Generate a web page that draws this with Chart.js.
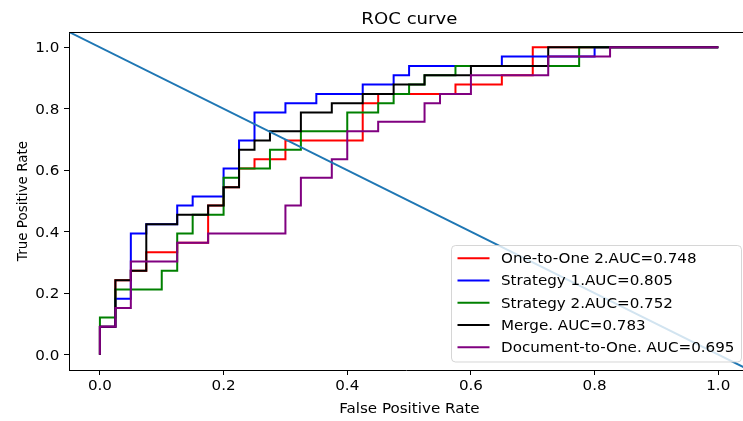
<!DOCTYPE html>
<html><head><meta charset="utf-8">
<script src="https://cdn.jsdelivr.net/npm/chart.js@4.4.0/dist/chart.umd.min.js"></script>
<style>html,body{margin:0;padding:0;background:#fff}canvas{display:block}</style>
</head><body>
<canvas id="c" width="743" height="421"></canvas>
<script>
// ---- data ----
const seriesLabels = ["One-to-One 2.AUC=0.748", "Strategy 1.AUC=0.805", "Strategy 2.AUC=0.752", "Merge. AUC=0.783", "Document-to-One. AUC=0.695"];
const seriesColors = ["#ff0000", "#0000ff", "#008000", "#000000", "#800080"];

const redFpr = [0, 0, 0.025, 0.05, 0.075, 0.125, 0.175, 0.2, 0.225, 0.25, 0.3, 0.425, 0.45, 0.575, 0.65, 0.7, 1.0];
const redTpr = [0, 0.091, 0.242, 0.273, 0.333, 0.364, 0.485, 0.545, 0.606, 0.636, 0.697, 0.818, 0.848, 0.879, 0.909, 1.0, 1.0];

const blueFpr = [0, 0, 0.025, 0.05, 0.075, 0.125, 0.15, 0.2, 0.225, 0.25, 0.3, 0.35, 0.425, 0.475, 0.5, 0.65, 0.8, 1.0];
const blueTpr = [0, 0.091, 0.182, 0.394, 0.424, 0.485, 0.515, 0.606, 0.697, 0.788, 0.818, 0.848, 0.879, 0.909, 0.939, 0.970, 1.0, 1.0];

const greenFpr = [0, 0, 0.025, 0.1, 0.125, 0.15, 0.2, 0.225, 0.275, 0.325, 0.4, 0.45, 0.475, 0.5, 0.525, 0.575, 0.775, 1.0];
const greenTpr = [0, 0.121, 0.212, 0.273, 0.394, 0.455, 0.576, 0.606, 0.667, 0.727, 0.788, 0.818, 0.848, 0.879, 0.909, 0.939, 1.0, 1.0];

const blackFpr = [0, 0, 0.025, 0.05, 0.075, 0.125, 0.175, 0.2, 0.225, 0.25, 0.275, 0.325, 0.375, 0.425, 0.475, 0.525, 0.6, 0.725, 1.0];
const blackTpr = [0, 0.091, 0.242, 0.273, 0.424, 0.455, 0.485, 0.545, 0.667, 0.697, 0.727, 0.788, 0.818, 0.848, 0.879, 0.909, 0.939, 1.0, 1.0];

const purpleFpr = [0, 0, 0.025, 0.05, 0.125, 0.175, 0.3, 0.325, 0.375, 0.4, 0.45, 0.525, 0.55, 0.6, 0.725, 0.825, 1.0];
const purpleTpr = [0, 0.091, 0.152, 0.303, 0.364, 0.394, 0.485, 0.576, 0.636, 0.727, 0.758, 0.818, 0.848, 0.909, 0.970, 1.0, 1.0];

const diagX = [-0.05, 1.05];
const diagY = [1.05, -0.05];

const xTicks = [0, 0.2, 0.4, 0.6, 0.8, 1.0];
const yTicks = [0, 0.2, 0.4, 0.6, 0.8, 1.0];
const xTickLabels = ["0.0", "0.2", "0.4", "0.6", "0.8", "1.0"];
const yTickLabels = ["0.0", "0.2", "0.4", "0.6", "0.8", "1.0"];

const titleText = "ROC curve";
const xLabel = "False Positive Rate";
const yLabel = "True Positive Rate";

// ---- build ----
const FONT = '"DejaVu Sans", "Liberation Sans", sans-serif';
const SX = 1.12; // horizontal stretch of the reference's text
const pts = (xs, ys) => xs.map((x, i) => ({x: x, y: ys[i]}));
const curves = [[redFpr, redTpr], [blueFpr, blueTpr], [greenFpr, greenTpr], [blackFpr, blackTpr], [purpleFpr, purpleTpr]];

const datasets = curves.map((c, i) => ({
  label: seriesLabels[i],
  data: pts(c[0], c[1]),
  borderColor: seriesColors[i],
  backgroundColor: seriesColors[i],
  borderWidth: 2,
  pointRadius: 0,
  stepped: 'before',
  fill: false,
  clip: 0,
  order: 5 - i
}));
datasets.push({
  label: 'diag',
  data: pts(diagX, diagY),
  borderColor: '#1f77b4',
  borderWidth: 2,
  pointRadius: 0,
  fill: false,
  clip: 0,
  order: 0
});

function stretchedText(ctx, text, x, y, align, sx) {
  ctx.save();
  ctx.translate(x, y);
  ctx.scale(sx, 1);
  ctx.textAlign = align;
  ctx.fillText(text, 0, 0);
  ctx.restore();
}

const decor = {
  id: 'decor',
  beforeDraw(chart) {
    const ctx = chart.ctx;
    ctx.save();
    ctx.fillStyle = '#fff';
    ctx.fillRect(0, 0, chart.width, chart.height);
    ctx.restore();
  },
  afterDraw(chart) {
    const ctx = chart.ctx;
    const a = chart.chartArea;
    const xs = chart.scales.x, ys = chart.scales.y;
    ctx.save();
    // top spine
    ctx.strokeStyle = '#000';
    ctx.lineWidth = 1;
    ctx.beginPath();
    ctx.moveTo(a.left, a.top + 0.5);
    ctx.lineTo(a.right, a.top + 0.5);
    ctx.stroke();
    ctx.fillStyle = '#000';
    ctx.textBaseline = 'alphabetic';
    // tick labels
    ctx.font = '13.5px ' + FONT;
    xTicks.forEach((v, i) => stretchedText(ctx, xTickLabels[i], xs.getPixelForValue(v), 389.5, 'center', SX));
    yTicks.forEach((v, i) => stretchedText(ctx, yTickLabels[i], 59.3, ys.getPixelForValue(v) + 4.9, 'right', SX));
    // title
    ctx.font = '16.2px ' + FONT;
    stretchedText(ctx, titleText, 409.4, 23.7, 'center', SX);
    // x label
    ctx.font = '13.5px ' + FONT;
    stretchedText(ctx, xLabel, 409.4, 412.5, 'center', SX);
    // y label
    ctx.save();
    ctx.translate(26.5, (a.top + a.bottom) / 2);
    ctx.rotate(-Math.PI / 2);
    ctx.textAlign = 'center';
    ctx.fillText(yLabel, 0, 0);
    ctx.restore();
    // legend
    const lx = 451.5, ly = 245.5, lw = 290, lh = 116.5, r = 4;
    ctx.beginPath();
    ctx.moveTo(lx + r, ly);
    ctx.lineTo(lx + lw - r, ly);
    ctx.quadraticCurveTo(lx + lw, ly, lx + lw, ly + r);
    ctx.lineTo(lx + lw, ly + lh - r);
    ctx.quadraticCurveTo(lx + lw, ly + lh, lx + lw - r, ly + lh);
    ctx.lineTo(lx + r, ly + lh);
    ctx.quadraticCurveTo(lx, ly + lh, lx, ly + lh - r);
    ctx.lineTo(lx, ly + r);
    ctx.quadraticCurveTo(lx, ly, lx + r, ly);
    ctx.closePath();
    ctx.fillStyle = 'rgba(255,255,255,0.8)';
    ctx.fill();
    ctx.strokeStyle = 'rgba(204,204,204,0.8)';
    ctx.lineWidth = 1;
    ctx.stroke();
    ctx.font = '13.5px ' + FONT;
    seriesLabels.forEach((lab, i) => {
      const y = 258.3 + i * 22.25;
      ctx.strokeStyle = seriesColors[i];
      ctx.lineWidth = 2;
      ctx.beginPath();
      ctx.moveTo(457.5, y);
      ctx.lineTo(489.5, y);
      ctx.stroke();
      ctx.fillStyle = '#000';
      stretchedText(ctx, lab, 501, y + 4.9, 'left', SX);
    });
    ctx.restore();
  }
};

new Chart(document.getElementById('c'), {
  type: 'line',
  data: { datasets: datasets },
  options: {
    responsive: false,
    devicePixelRatio: 1,
    animation: false,
    layout: { padding: { top: 32, right: 0, left: 0, bottom: 0 } },
    plugins: { legend: { display: false }, title: { display: false }, tooltip: { enabled: false } },
    scales: {
      x: {
        type: 'linear',
        min: -0.05,
        max: 1.04,
        afterFit(s) { s.height = 51; s.paddingLeft = 0; s.paddingRight = 0; },
        afterBuildTicks(s) { s.ticks = xTicks.map(v => ({ value: v })); },
        grid: { drawOnChartArea: false, drawTicks: true, tickLength: 5, tickWidth: 1, tickColor: '#000' },
        border: { display: true, color: '#000', width: 1 },
        ticks: { display: false }
      },
      y: {
        type: 'linear',
        min: -0.05,
        max: 1.05,
        afterFit(s) { s.width = 69; },
        afterBuildTicks(s) { s.ticks = yTicks.map(v => ({ value: v })); },
        grid: { drawOnChartArea: false, drawTicks: true, tickLength: 5, tickWidth: 1, tickColor: '#000' },
        border: { display: true, color: '#000', width: 1 },
        ticks: { display: false }
      }
    }
  },
  plugins: [decor]
});
</script>
</body></html>
